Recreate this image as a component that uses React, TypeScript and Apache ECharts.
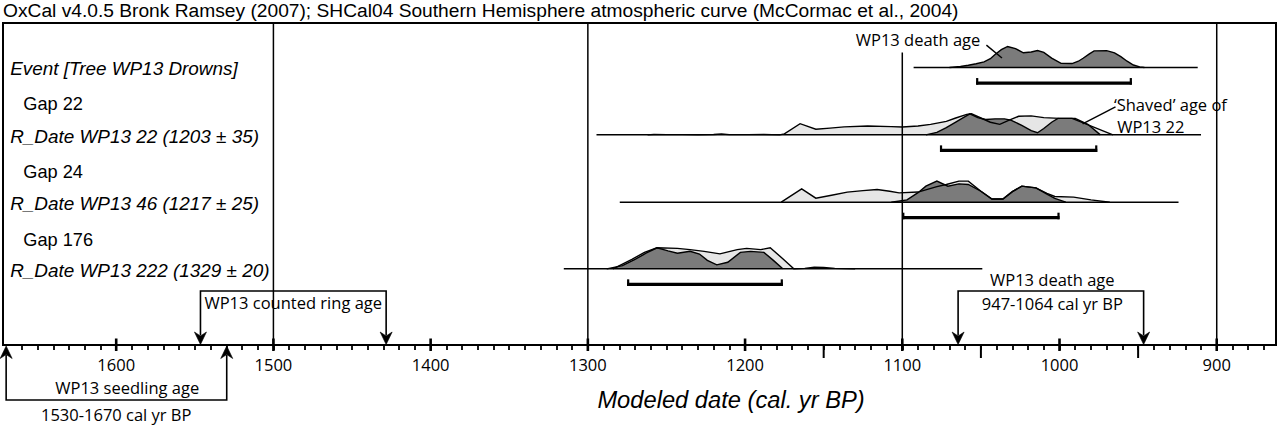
import React, { useEffect, useRef } from "react";
import * as echarts from "echarts";

const TITLE =
  "OxCal v4.0.5 Bronk Ramsey (2007); SHCal04 Southern Hemisphere atmospheric curve (McCormac et al., 2004)";
const AXIS_TITLE = "Modeled date (cal. yr BP)";

// axis extent (cal yr BP, reversed) and vertical extent in row units
const X_OLDEST = 1672;
const X_YOUNGEST = 862.3;
const Y_TOP = 4.735;

const tickLabelValues = [1600, 1500, 1400, 1300, 1200, 1100, 1000, 900];
const majorTickValues = [1600, 1500, 1400, 1300, 1200, 1100, 1000, 900];
const longTickValues = [1150, 1050, 950];
const minorTickValues: number[] = [];
for (let v = 870; v <= 1660; v += 10) minorTickValues.push(v);

const gridLineYears = [1500, 1300, 1100, 900];
const gridLineTops = [4.735, 4.735, 4.3, 4.735];

// row labels
const rowLabels = [
  "Event [Tree WP13 Drowns]",
  "Gap 22",
  "R_Date WP13 22 (1203 ± 35)",
  "Gap 24",
  "R_Date WP13 46 (1217 ± 25)",
  "Gap 176",
  "R_Date WP13 222 (1329 ± 20)",
];
const rowLabelItalic = [true, false, true, false, true, false, true];
const rowLabelLevels = [4.06, 3.54, 3.06, 2.55, 2.08, 1.55, 1.09];

// distributions: [year, relative probability]
const densityBaselines = [4.08, 3.09, 2.1, 1.12];
const densitySpans = [
  [1092.8, 912.1],
  [1294.5, 910],
  [1279.7, 924.3],
  [1315.3, 1049.1],
];
const rangeBars = [
  [1053, 954],
  [1076, 976],
  [1100, 1000],
  [1275, 1176],
];

const eventPosterior = [
  [1070, 0], [1063, 0.05], [1058, 0.11], [1053, 0.18], [1048, 0.27], [1044, 0.42],
  [1041, 0.62], [1037, 0.85], [1033, 1.0], [1028, 0.9], [1023, 0.7], [1018, 0.74],
  [1014, 0.81], [1010, 0.72], [1005, 0.45], [999, 0.2], [992, 0.19], [988, 0.3],
  [985, 0.44], [981, 0.65], [978, 0.79], [970, 0.8], [965, 0.7], [961, 0.52],
  [957, 0.3], [953, 0.12], [949, 0.03], [946, 0],
];

const r22Prior = [
  [1262, 0], [1258, 0.02], [1250, 0.01], [1240, 0.01], [1230, 0], [1220, 0.02],
  [1215, 0.04], [1210, 0.01], [1198, 0.01], [1188, 0.02], [1178, 0], [1175, 0.05],
  [1165, 0.53], [1155, 0.27], [1146, 0.32], [1137, 0.38], [1122, 0.42], [1107, 0.39],
  [1100, 0.37], [1090, 0.42], [1082, 0.5], [1072, 0.64], [1066, 0.8], [1059, 0.97],
  [1056, 1.0], [1050, 0.8], [1044, 0.6], [1038, 0.5], [1032, 0.7], [1026, 0.88],
  [1018, 0.9], [1010, 0.82], [1000, 0.78], [992, 0.78], [966, 0],
];
const r22Posterior = [
  [1085, 0], [1078, 0.12], [1072, 0.34], [1066, 0.6], [1062, 0.78], [1057, 1.0],
  [1052, 0.82], [1047, 0.73], [1041, 0.76], [1035, 0.76], [1031, 0.7], [1024, 0.45],
  [1018, 0.2], [1014, 0.1], [1010, 0.3], [1005, 0.6], [1001, 0.78], [990, 0.78],
  [982, 0.5], [974, 0],
];

const r46Prior = [
  [1177, 0], [1164, 0.63], [1155, 0.19], [1145, 0.33], [1135, 0.48], [1125, 0.55],
  [1116, 0.6], [1108, 0.52], [1102, 0.44], [1090, 0.48], [1078, 0.74], [1072, 0.84],
  [1064, 1.0], [1058, 1.0], [1050, 0.52], [1043, 0.15], [1036, 0.15], [1030, 0.5],
  [1024, 0.76], [1015, 0.68], [1008, 0.42], [1003, 0.27], [991, 0.24], [980, 0.11],
  [968, 0],
];
const r46Posterior = [
  [1107, 0], [1097, 0.11], [1090, 0.45], [1085, 0.76], [1078, 1.0], [1071, 0.76],
  [1064, 0.87], [1058, 0.84], [1050, 0.52], [1043, 0.15], [1036, 0.15], [1030, 0.5],
  [1024, 0.76], [1015, 0.68], [1008, 0.38], [1003, 0.18], [996, 0],
];

const r222Prior = [
  [1284, 0], [1272, 0.45], [1264, 0.78], [1256, 1.0], [1243, 0.97], [1235, 0.91],
  [1226, 0.83], [1216, 0.71], [1205, 0.91], [1199, 0.97], [1190, 0.91], [1184, 1.0],
  [1176, 0.48], [1169, 0], [1162, 0.02], [1156, 0.08], [1150, 0.07], [1143, 0.02],
  [1130, 0],
];
const r222Posterior = [
  [1288, 0], [1278, 0.15], [1270, 0.45], [1263, 0.74], [1256, 1.0], [1249, 0.85],
  [1243, 0.74], [1235, 0.83], [1229, 0.7], [1224, 0.4], [1218, 0.19], [1211, 0.31],
  [1203, 0.78], [1196.5, 0.83], [1188, 0.78], [1182, 0.4], [1176, 0],
];

const densityPriors = [null, r22Prior, r46Prior, r222Prior];
const densityPosteriors = [eventPosterior, r22Posterior, r46Posterior, r222Posterior];

// annotations
const countedRingArrows = [1546.4, 1428.3];
const deathAgeArrows = [1064.5, 946.5];
const seedlingArrows = [1670, 1529.7];
const downBarLevel = 0.794;
const upBarLevel = -0.809;

const annotTexts = ["WP13 death age", "‘Shaved’ age of", "WP13 22", "WP13 counted ring age", "WP13 death age", "947-1064 cal yr BP", "WP13 seedling age", "1530-1670 cal yr BP"];
const annotYears = [1090, 965.4, 963.3, 1487.4, 1004.6, 1004.6, 1593, 1600];
const annotLevels = [4.49, 3.54, 3.21, 0.618, 0.956, 0.603, -0.628, -1.015];
const annotAlign = ["center", "left", "left", "center", "center", "center", "center", "center"];
const leaderLines = [
  [[1046.5, 4.41], [1036.6, 4.22]],
  [[964.4, 3.5], [985.3, 3.25]],
];

const HELV = "'Liberation Sans', Arial, Helvetica, sans-serif";
const MYRIAD = "'Open Sans', 'Noto Sans', sans-serif";
const PEAK = 0.31;
const BAR_DROP = 0.228;

function textEl(x: number, y: number, text: string, size: number, family: string, align: string, italic = false) {
  return {
    type: "text",
    x,
    y,
    style: {
      text,
      fill: "#000",
      fontSize: size,
      fontFamily: family,
      fontStyle: italic ? "italic" : "normal",
      align,
      verticalAlign: "middle",
      textAlign: align,
      textVerticalAlign: "middle",
    },
  };
}

export default function App() {
  const ref = useRef<HTMLDivElement>(null);
  useEffect(() => {
    const chart = echarts.init(ref.current!, null, { renderer: "svg" });

    const densitySeries = {
      type: "custom",
      coordinateSystem: "cartesian2d",
      clip: false,
      silent: true,
      z: 2,
      data: densitySpans.map((s, i) => [s[0], densityBaselines[i]]),
      renderItem: (params: any, api: any) => {
        const i = params.dataIndex;
        const base = densityBaselines[i];
        const pt = (p: number[]) => api.coord([p[0], base + p[1] * PEAK]);
        const children: any[] = [];
        const prior = densityPriors[i];
        const post = densityPosteriors[i];
        if (prior) children.push({ type: "polygon", shape: { points: prior.map(pt) }, style: { fill: "#e6e6e6", stroke: null } });
        children.push({ type: "polygon", shape: { points: post.map(pt) }, style: { fill: "#7b7b7b", stroke: null } });
        if (prior) children.push({ type: "polyline", shape: { points: prior.map(pt) }, style: { fill: null, stroke: "#000", lineWidth: 1.4 } });
        children.push({ type: "polyline", shape: { points: post.map(pt) }, style: { fill: null, stroke: "#000", lineWidth: 1.4 } });
        const b0 = api.coord([densitySpans[i][0], base]);
        const b1 = api.coord([densitySpans[i][1], base]);
        children.push({ type: "line", shape: { x1: b0[0], y1: b0[1], x2: b1[0], y2: b1[1] }, style: { stroke: "#000", lineWidth: 1.5 } });
        const r0 = api.coord([rangeBars[i][0], base - BAR_DROP]);
        const r1 = api.coord([rangeBars[i][1], base - BAR_DROP]);
        children.push({ type: "line", shape: { x1: r0[0], y1: r0[1], x2: r1[0], y2: r1[1] }, style: { stroke: "#000", lineWidth: 3.2 } });
        children.push({ type: "line", shape: { x1: r0[0] + 1, y1: r0[1] - 5, x2: r0[0] + 1, y2: r0[1] + 1.6 }, style: { stroke: "#000", lineWidth: 2.2 } });
        children.push({ type: "line", shape: { x1: r1[0] - 1, y1: r1[1] - 5, x2: r1[0] - 1, y2: r1[1] + 1.6 }, style: { stroke: "#000", lineWidth: 2.2 } });
        return { type: "group", children };
      },
    };

    const gridLineSeries = {
      type: "custom",
      coordinateSystem: "cartesian2d",
      clip: false,
      silent: true,
      z: 3,
      data: gridLineYears.map((y, i) => [y, gridLineTops[i]]),
      renderItem: (params: any, api: any) => {
        const i = params.dataIndex;
        const a = api.coord([gridLineYears[i], gridLineTops[i]]);
        const b = api.coord([gridLineYears[i], 0]);
        return { type: "line", shape: { x1: a[0], y1: a[1], x2: b[0], y2: b[1] }, style: { stroke: "#000", lineWidth: 1.5 } };
      },
    };

    const tickValues = [...majorTickValues, ...longTickValues];
    const tickSeries = {
      type: "custom",
      coordinateSystem: "cartesian2d",
      clip: false,
      silent: true,
      z: 4,
      data: tickValues.map((v) => [v, 0]),
      renderItem: (params: any, api: any) => {
        const i = params.dataIndex;
        const p = api.coord([tickValues[i], 0]);
        const major = i < majorTickValues.length;
        return {
          type: "line",
          shape: major ? { x1: p[0], y1: p[1] - 6.5, x2: p[0], y2: p[1] + 6 } : { x1: p[0], y1: p[1], x2: p[0], y2: p[1] + 13 },
          style: { stroke: "#000", lineWidth: major ? 2.6 : 2 },
        };
      },
    };

    const labelSeries = {
      type: "custom",
      coordinateSystem: "cartesian2d",
      clip: false,
      silent: true,
      z: 5,
      data: rowLabels.map((_, i) => [X_OLDEST, rowLabelLevels[i]]),
      renderItem: (params: any, api: any) => {
        const i = params.dataIndex;
        const p = api.coord([X_OLDEST, rowLabelLevels[i]]);
        const italic = rowLabelItalic[i];
        return textEl(p[0] + (italic ? 7.2 : 20.3), p[1], rowLabels[i], italic ? 18.9 : 18.2, HELV, "left", italic);
      },
    };

    const annotTextSeries = {
      type: "custom",
      coordinateSystem: "cartesian2d",
      clip: false,
      silent: true,
      z: 6,
      data: annotTexts.map((_, i) => [annotYears[i], annotLevels[i]]),
      renderItem: (params: any, api: any) => {
        const i = params.dataIndex;
        const p = api.coord([annotYears[i], annotLevels[i]]);
        return textEl(p[0], p[1], annotTexts[i], 16.5, MYRIAD, annotAlign[i]);
      },
    };

    const arrowHead = (x: number, tipY: number, dir: number) => ({
      type: "polygon",
      shape: {
        points: [
          [x, tipY],
          [x - 6, tipY - dir * 12.5],
          [x, tipY - dir * 8.5],
          [x + 6, tipY - dir * 12.5],
        ],
      },
      style: { fill: "#000", stroke: "#000", lineWidth: 0.6 },
    });

    const bracketGroups = [countedRingArrows, deathAgeArrows, seedlingArrows];
    const bracketLevels = [downBarLevel, downBarLevel, upBarLevel];
    const bracketSeries = {
      type: "custom",
      coordinateSystem: "cartesian2d",
      clip: false,
      silent: true,
      z: 6,
      data: bracketGroups.map((g, i) => [g[0], bracketLevels[i]]),
      renderItem: (params: any, api: any) => {
        const i = params.dataIndex;
        const g = bracketGroups[i];
        const lvl = bracketLevels[i];
        const a = api.coord([g[0], lvl]);
        const b = api.coord([g[1], lvl]);
        const axisY = api.coord([g[0], 0])[1];
        const dir = lvl > 0 ? 1 : -1;
        const tipY = axisY + (dir > 0 ? -0.5 : 1);
        const children: any[] = [
          { type: "polyline", shape: { points: [[a[0], tipY - dir * 9], [a[0], a[1]], [b[0], b[1]], [b[0], tipY - dir * 9]] }, style: { fill: null, stroke: "#000", lineWidth: 1.6 } },
          arrowHead(a[0], tipY, dir),
          arrowHead(b[0], tipY, dir),
        ];
        return { type: "group", children };
      },
    };

    const leaderSeries = {
      type: "custom",
      coordinateSystem: "cartesian2d",
      clip: false,
      silent: true,
      z: 6,
      data: leaderLines.map((l) => l[0]),
      renderItem: (params: any, api: any) => {
        const l = leaderLines[params.dataIndex];
        const a = api.coord(l[0]);
        const b = api.coord(l[1]);
        return { type: "line", shape: { x1: a[0], y1: a[1], x2: b[0], y2: b[1] }, style: { stroke: "#000", lineWidth: 1.4 } };
      },
    };

    chart.setOption({
      animation: false,
      backgroundColor: "#fff",
      grid: { left: 3, right: 4, top: 23, bottom: 80, show: true, borderColor: "#000", borderWidth: 2, backgroundColor: "transparent" },
      xAxis: {
        type: "value",
        inverse: true,
        min: X_YOUNGEST,
        max: X_OLDEST,
        splitLine: { show: false },
        axisLine: { show: true, onZero: false, lineStyle: { color: "#000", width: 2 } },
        axisTick: { show: true, customValues: minorTickValues, length: 5, lineStyle: { color: "#000", width: 1.8 } },
        axisLabel: {
          customValues: tickLabelValues,
          color: "#000",
          fontSize: 16.5,
          fontFamily: MYRIAD,
          margin: 11,
          formatter: (v: number) => String(v),
        },
      },
      yAxis: { type: "value", min: 0, max: Y_TOP, show: false, splitLine: { show: false } },
      graphic: [
        {
          type: "text",
          x: 3,
          y: 10.5,
          silent: true,
          style: { text: TITLE, fill: "#000", fontSize: 19.2, fontFamily: HELV, align: "left", textAlign: "left", verticalAlign: "middle", textVerticalAlign: "middle" },
        },
        {
          type: "text",
          x: 731,
          y: 400,
          silent: true,
          style: { text: AXIS_TITLE, fill: "#000", fontSize: 23.7, fontStyle: "italic", fontFamily: HELV, align: "center", textAlign: "center", verticalAlign: "middle", textVerticalAlign: "middle" },
        },
      ],
      series: [densitySeries, gridLineSeries, tickSeries, labelSeries, annotTextSeries, bracketSeries, leaderSeries],
    });
    return () => chart.dispose();
  }, []);
  return <div ref={ref} style={{ position: "absolute", left: 0, top: 0, width: 1280, height: 425 }} />;
}
